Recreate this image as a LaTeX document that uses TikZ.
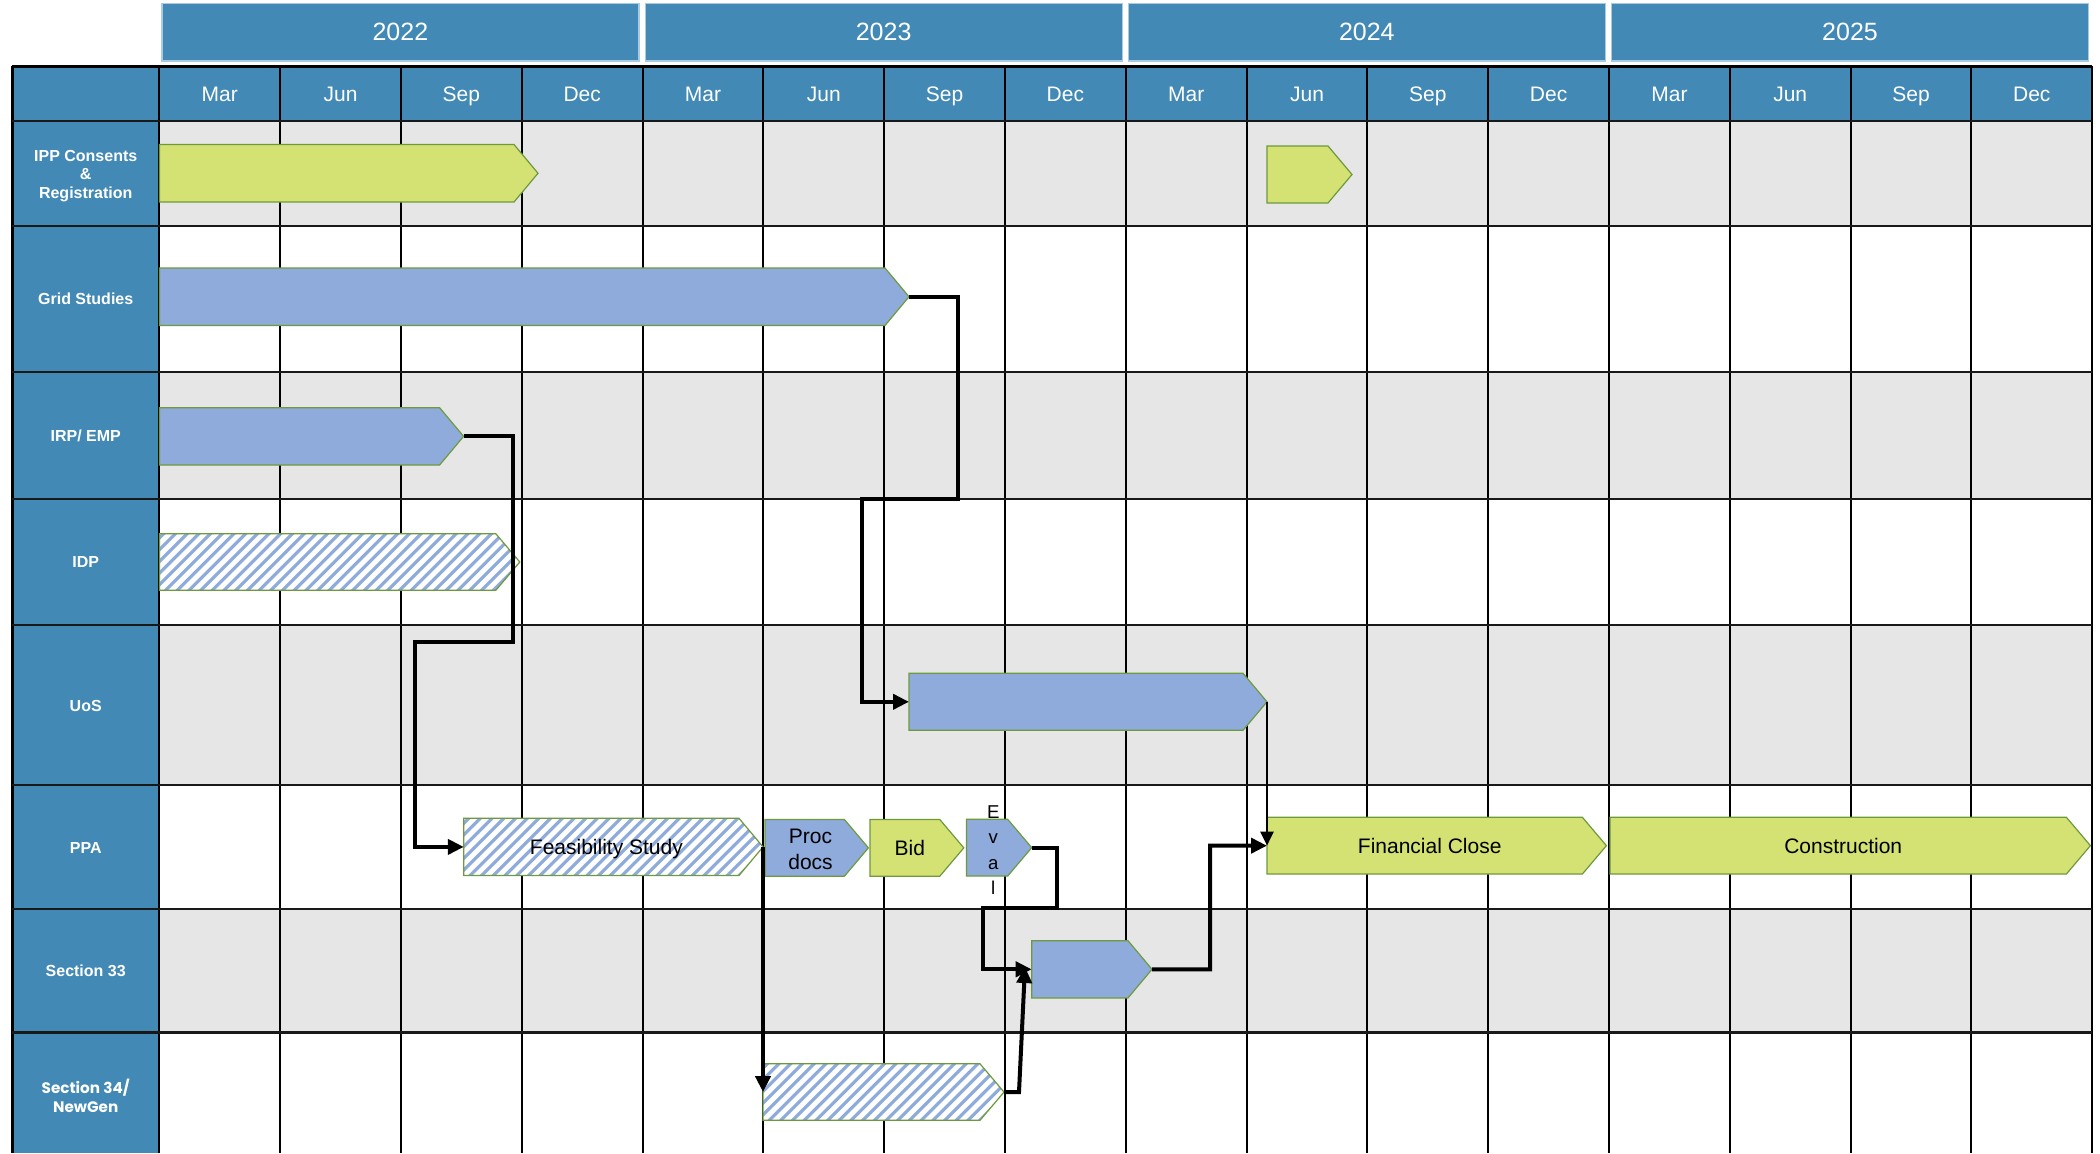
\documentclass[tikz,border=0pt]{standalone}
\usepackage{fontspec}
\setmainfont{Liberation Sans}
\newfontfamily\geofont{Poppins}
\usetikzlibrary{arrows.meta}

\definecolor{hdrblue}{HTML}{4289B5}
\definecolor{yearedge}{HTML}{A9CBE1}
\definecolor{rowgray}{HTML}{E6E6E6}
\definecolor{bargreen}{HTML}{D4E173}
\definecolor{barblue}{HTML}{8EABDC}
\definecolor{baredge}{HTML}{6E9A3E}

% solid chevron bar: name, style, x0, x of tip, top, bottom
\newcommand\solidbar[6]{%
  \path[#2] (#3,#5) -- ({#4-24},#5) -- (#4,{(#5+#6)/2}) -- ({#4-24},#6) -- (#3,#6) -- cycle;
  \coordinate (#1-w) at (#3,{(#5+#6)/2});
  \coordinate (#1-e) at (#4,{(#5+#6)/2});
  \coordinate (#1-c) at ({(#3+#4)/2-7},{(#5+#6)/2});
}
% hatched chevron bar: name, x0, x of tip, top, bottom
\newcommand\hatchbar[5]{%
  \begin{scope}
    \clip (#2,#4) -- ({#3-24},#4) -- (#3,{(#4+#5)/2}) -- ({#3-24},#5) -- (#2,#5) -- cycle;
    \fill[white] (#2,#4) rectangle (#3,#5);
    \foreach \k in {0,...,44}
      \draw[barblue, line width=1.6pt] ({#2-70+\k*11.7},{#5+6}) -- ++(80,-80);
  \end{scope}
  \draw[baredge, line width=0.6pt] (#2,#4) -- ({#3-24},#4) -- (#3,{(#4+#5)/2}) -- ({#3-24},#5) -- (#2,#5) -- cycle;
  \coordinate (#1-w) at (#2,{(#4+#5)/2});
  \coordinate (#1-e) at (#3,{(#4+#5)/2});
  \coordinate (#1-c) at ({(#2+#3)/2-7},{(#4+#5)/2});
}

\begin{document}
\begin{tikzpicture}[x=0.5pt,y=-0.5pt,
  greenbar/.style={fill=bargreen, draw=baredge, line width=0.6pt},
  bluebar/.style={fill=barblue, draw=baredge, line width=0.6pt},
  yearbox/.style={fill=hdrblue, draw=yearedge, line width=0.6pt, text=white,
    minimum width=238.5pt, minimum height=28.8pt, inner sep=0pt,
    font=\fontsize{12.5}{14}\selectfont},
  month/.style={text=white, anchor=base, inner sep=0pt, font=\fontsize{10.5}{12}\selectfont},
  rowlabel/.style={text=white, align=center, inner sep=0pt,
    font=\bfseries\fontsize{8}{9.4}\selectfont},
  bartext/.style={inner sep=0pt, text height=7.6pt, text depth=0pt,
    font=\fontsize{10.5}{12.9}\selectfont},
  multitext/.style={inner sep=0pt, align=center, font=\fontsize{10.5}{12.9}\selectfont},
  gridv/.style={line width=1pt, black},
  gridh/.style={line width=1.2pt, black!90},
  conn/.style={line width=2pt, -{Triangle[length=8pt,width=7.5pt]}},
  thinconn/.style={line width=1.3pt, -{Triangle[length=7pt,width=6.5pt]}},
]
\useasboundingbox (0,0) rectangle (2100,1153);
\fill[white] (0,0) rectangle (2100,1153);

% year headers
\foreach \i/\yr in {0/2022,1/2023,2/2024,3/2025}
  \node[yearbox] (y\yr) at ({159.4+\i*483.2+241},32.2) {\yr};

% header row and label column
\fill[hdrblue] (159.4,66) rectangle (2092,121);
\fill[hdrblue] (12,66) rectangle (159.4,1153);
% shaded rows
\foreach \a/\b in {121/226,372/499,625/785,909/1032.6}
  \fill[rowgray] (159.4,\a) rectangle (2092,\b);

% grid
\foreach \i in {0,...,16}
  \draw[gridv] ({159.4+\i*120.8},66) -- ({159.4+\i*120.8},1153);
\draw[line width=1.5pt] (12,66) -- (12,1153);
\draw[line width=1.5pt] (12,66) -- (2092,66);
\foreach \y in {121,226,372,499,625,785,909,1032.6}
  \draw[gridh] (12,\y) -- (2092,\y);

% months
\foreach \i/\m in {0/Mar,1/Jun,2/Sep,3/Dec,4/Mar,5/Jun,6/Sep,7/Dec,8/Mar,9/Jun,10/Sep,11/Dec,12/Mar,13/Jun,14/Sep,15/Dec}
  \node[month] (m\i) at ({159.4+(\i+0.5)*120.8},101.7) {\m};

% row labels
\node[rowlabel] (l1) at (85.7,176) {IPP Consents\\\&\\Registration};
\node[rowlabel] (l2) at (85.7,299) {Grid Studies};
\node[rowlabel] (l3) at (85.7,435.5) {IRP/ EMP};
\node[rowlabel] (l4) at (85.7,562) {IDP};
\node[rowlabel] (l5) at (85.7,706) {UoS};
\node[rowlabel] (l6) at (85.7,848) {PPA};
\node[rowlabel] (l7) at (85.7,971) {Section 33};
\node[rowlabel, font=\geofont\bfseries\fontsize{7.6}{9.4}\selectfont] (l8) at (85.7,1096) {Section 34/\\NewGen};

% task bars
\solidbar{ipa}{greenbar}{159.4}{538}{144.5}{202}
\solidbar{ipb}{greenbar}{1267}{1352}{146}{203}
\solidbar{gs}{bluebar}{159.4}{909}{268}{325.5}
\solidbar{irp}{bluebar}{159.4}{463.6}{407.7}{465}
\hatchbar{idp}{159.4}{519.8}{533.7}{590.3}
\solidbar{uos}{bluebar}{909}{1267}{673.3}{730.3}
\hatchbar{fs}{463.8}{763}{818.3}{875.5}
\solidbar{pd}{bluebar}{765}{868.4}{819.5}{876.2}
\solidbar{bid}{greenbar}{870}{963.8}{819.5}{876.2}
\solidbar{ev}{bluebar}{966.5}{1031.7}{819.3}{876}
\solidbar{fc}{greenbar}{1267}{1606.4}{817.3}{874}
\solidbar{con}{greenbar}{1610}{2090.4}{817.3}{874}
\solidbar{sa}{bluebar}{1031.7}{1152}{940.7}{997.9}
\hatchbar{sb}{763}{1004}{1063.8}{1120.3}

% bar texts
\node[bartext] (fs-t) at (fs-c) {Feasibility Study};
\node[multitext] (pd-t) at (810.5,849.5) {Proc\\docs};
\node[bartext] (bid-t) at (bid-c) {Bid};
\node[multitext, font=\fontsize{9.3}{12.75}\selectfont] (ev-t) at (993.3,850) {E\\v\\a\\l};
\node[bartext] (fc-t) at (fc-c) {Financial Close};
\node[bartext] (con-t) at (con-c) {Construction};

% dependencies
\coordinate (sa-in) at (1025,967);
\draw[conn] (gs-e) -| (958,499) -| (861.6,701.8) -- (uos-w);
\draw[conn] (irp-e) -| (513,641.6) -| (415.3,846.9) -- (fs-w);
\draw[thinconn] (uos-e) -- (fc-w);
\draw[conn] (fs-e) -- (sb-w);
\draw[conn] (ev-e) -| (1057,908) -| (983,969.3) -- (sa-w);
\draw[conn] (sb-e) -- (1019,1092) -- (sa-in);
\draw[conn] (sa-e) -| (1210,845.7) -- (fc-w);
\end{tikzpicture}
\end{document}
